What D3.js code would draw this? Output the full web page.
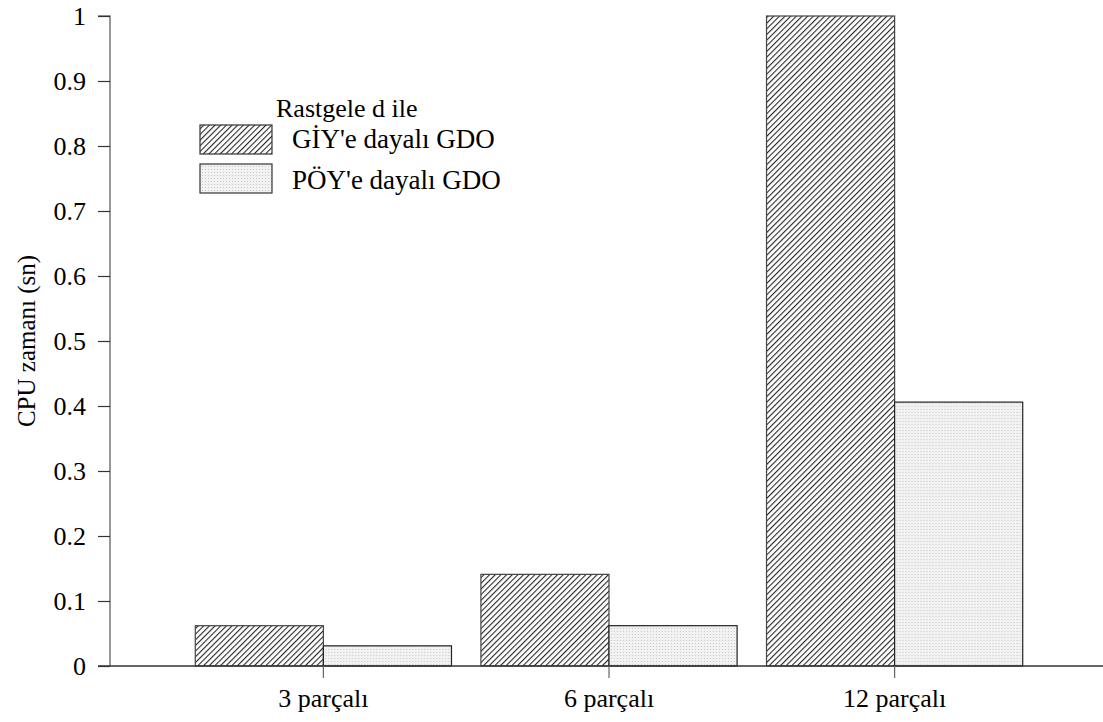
<!DOCTYPE html>
<html>
<head>
<meta charset="utf-8">
<script src="https://cdn.jsdelivr.net/npm/d3@7"></script>
<style>
  html, body { margin: 0; padding: 0; background: #fff; }
</style>
</head>
<body>
<svg id="chart" width="1103" height="722"></svg>
<script>
// CPU times (seconds) per problem size
const categories = ["3 parçalı", "6 parçalı", "12 parçalı"];
const seriesNames = ["GİY'e dayalı GDO", "PÖY'e dayalı GDO"];
const giyValues = [0.062, 0.141, 1.0];
const poyValues = [0.031, 0.062, 0.406];
const yTicks = [0, 0.1, 0.2, 0.3, 0.4, 0.5, 0.6, 0.7, 0.8, 0.9, 1];
const legendTitle = "Rastgele d ile";
const yTitle = "CPU zamanı (sn)";

const FONT = "'Liberation Serif', 'Times New Roman', 'DejaVu Serif', serif";

const svg = d3.select("#chart");
const defs = svg.append("defs");

// dense diagonal hatch
const hatch = defs.append("pattern")
  .attr("id", "hatch").attr("patternUnits", "userSpaceOnUse")
  .attr("width", 4).attr("height", 4)
  .attr("patternTransform", "rotate(45)");
hatch.append("rect").attr("width", 4).attr("height", 4).attr("fill", "#fff");
hatch.append("line").attr("x1", 0.6).attr("y1", 0).attr("x2", 0.6).attr("y2", 4)
  .attr("stroke", "#111").attr("stroke-width", 1.0);

// fine light-gray stipple
const dots = defs.append("pattern")
  .attr("id", "dots").attr("patternUnits", "userSpaceOnUse")
  .attr("width", 3).attr("height", 3);
dots.append("rect").attr("width", 3).attr("height", 3).attr("fill", "#f2f2f2");
dots.append("rect").attr("x", 1).attr("y", 1).attr("width", 1).attr("height", 1).attr("fill", "#c8c8c8");

const fills = ["url(#hatch)", "url(#dots)"];
const table = categories.map((c, i) => ({ cat: c, vals: [giyValues[i], poyValues[i]] }));

const x0 = 110, xEnd = 1103, yTop = 16, yBottom = 666;

const x = d3.scaleBand().domain(categories).range([181, 1037]).paddingInner(0.103).paddingOuter(0.05);
const xs = d3.scaleBand().domain(seriesNames).range([0, x.bandwidth()]);
const y = d3.scaleLinear().domain([0, 1]).range([yBottom, yTop]);

function textStyle(sel, size) {
  sel.style("font-family", FONT).style("font-size", size + "px").style("fill", "#000");
}

// bars
const groups = svg.append("g").selectAll("g").data(table).join("g")
  .attr("transform", d => `translate(${x(d.cat)},0)`);
groups.selectAll("rect").data(d => d.vals.map((v, j) => ({ v, j })))
  .join("rect")
  .attr("x", d => xs(seriesNames[d.j]))
  .attr("y", d => y(d.v))
  .attr("width", xs.bandwidth())
  .attr("height", d => y(0) - y(d.v))
  .attr("fill", d => fills[d.j])
  .attr("stroke", d => d.j === 0 ? "#444" : "#222")
  .attr("stroke-width", 1.2);

// y axis
const yAxis = svg.append("g").attr("transform", `translate(${x0},0)`)
  .call(d3.axisLeft(y).tickValues(yTicks).tickFormat(d3.format("~g")).tickSize(12).tickPadding(12));
yAxis.select(".domain").attr("stroke", "#777").attr("stroke-width", 1.5).attr("d", `M-12,${yTop}H0V${yBottom}`);
yAxis.selectAll(".tick line").attr("stroke", "#333").attr("stroke-width", 1.2);
yAxis.selectAll(".tick text").call(textStyle, 26).attr("dy", "0.34em");

// x axis baseline spanning the width
svg.append("line").attr("x1", 98).attr("x2", xEnd).attr("y1", yBottom).attr("y2", yBottom)
  .attr("stroke", "#333").attr("stroke-width", 1.5);

const xAxis = svg.append("g").attr("transform", `translate(0,${yBottom})`)
  .call(d3.axisBottom(x).tickSize(12).tickPadding(8));
xAxis.select(".domain").remove();
xAxis.selectAll(".tick line").attr("stroke", "#666").attr("stroke-width", 1.2);
xAxis.selectAll(".tick text").call(textStyle, 26).attr("y", 41).attr("dy", 0);

// y title
svg.append("text")
  .attr("transform", `translate(35,${(yTop + yBottom) / 2}) rotate(-90)`)
  .attr("text-anchor", "middle")
  .call(textStyle, 25)
  .text(yTitle);

// legend
const legend = svg.append("g");
legend.append("text").attr("x", 276).attr("y", 117).call(textStyle, 26).text(legendTitle);
seriesNames.forEach((name, i) => {
  const ly = 125 + i * 39;
  legend.append("rect").attr("x", 200).attr("y", ly).attr("width", 72).attr("height", 29)
    .attr("fill", fills[i]).attr("stroke", "#333").attr("stroke-width", 1.2);
  legend.append("text").attr("x", 292).attr("y", 148 + i * 41).call(textStyle, 27).text(name);
});
</script>
</body>
</html>
